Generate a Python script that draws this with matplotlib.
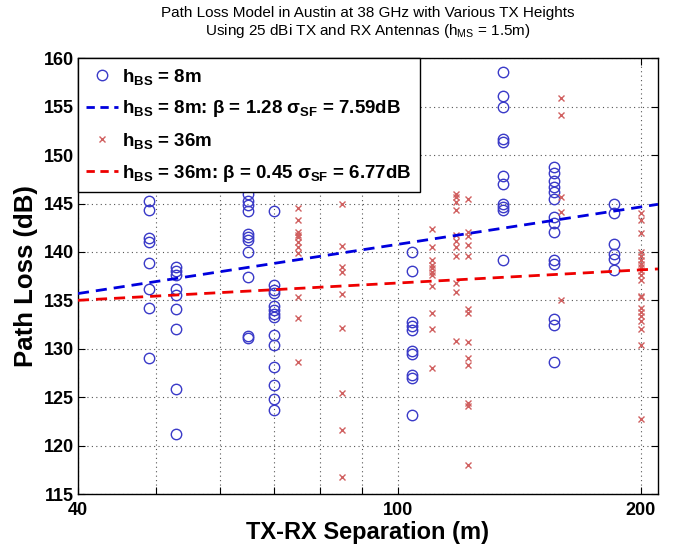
import numpy as np
import matplotlib.pyplot as plt
from matplotlib.lines import Line2D

plt.rcParams['font.family'] = ['Liberation Sans', 'DejaVu Sans']
plt.rcParams['mathtext.fontset'] = 'custom'
plt.rcParams['mathtext.rm'] = 'Liberation Sans'
plt.rcParams['mathtext.it'] = 'Liberation Sans:italic'
plt.rcParams['mathtext.bf'] = 'Liberation Sans:bold'

# measured path loss, h_BS = 8m (blue circles), grouped by TX-RX distance
dist_8m = [49, 53, 65, 70, 104, 135, 156, 185]
pl_8m = [
    [145.3, 144.3, 141.4, 141.0, 138.9, 136.2, 134.2, 129.0],
    [138.4, 138.0, 137.6, 136.2, 135.6, 134.1, 132.0, 125.8, 121.2],
    [146.0, 145.3, 144.9, 144.2, 141.9, 141.5, 141.2, 140.0, 137.4, 131.3, 131.1],
    [144.2, 136.6, 136.1, 135.8, 134.4, 134.0, 133.6, 133.3, 131.4, 130.4, 128.1, 126.3, 124.8, 123.7],
    [140.0, 138.0, 132.8, 132.4, 131.9, 129.8, 129.5, 127.3, 127.0, 123.2],
    [158.6, 156.1, 155.0, 151.7, 151.4, 147.9, 147.0, 145.0, 144.6, 144.3, 139.2],
    [148.8, 148.2, 147.3, 146.7, 146.2, 145.5, 143.6, 143.0, 142.1, 139.2, 138.8, 133.1, 132.5, 128.6],
    [145.0, 144.0, 140.8, 139.8, 139.3, 138.1],
]

# measured path loss, h_BS = 36m (red crosses)
dist_36m = [75, 85, 110, 118, 122, 159, 200]
pl_36m = [
    [144.5, 143.3, 142.1, 141.8, 141.5, 141.0, 140.5, 139.9, 135.3, 133.2, 128.6],
    [145.0, 140.6, 138.5, 137.9, 135.7, 132.2, 125.4, 121.6, 116.8],
    [142.4, 140.5, 139.2, 138.7, 138.3, 137.9, 137.6, 136.5, 133.7, 132.0, 128.0],
    [146.0, 145.7, 145.2, 144.3, 141.8, 141.1, 140.5, 139.6, 136.8, 135.9, 130.8],
    [145.5, 142.1, 141.6, 140.7, 139.6, 134.1, 133.7, 130.7, 129.0, 128.3, 124.4, 124.1, 118.0],
    [155.9, 154.1, 145.7, 144.1, 135.0],
    [144.0, 143.3, 142.0, 140.0, 139.6, 139.2, 138.8, 138.4, 138.0, 137.6, 137.1,
     135.5, 135.3, 134.2, 133.8, 133.4, 132.9, 132.0, 130.4, 122.8],
]

# fitted models PL = alpha + 10*beta*log10(d)
alpha_8m, beta_8m, sigma_8m = 115.2, 1.28, 7.59
alpha_36m, beta_36m, sigma_36m = 127.8, 0.45, 6.77

x_ticks = [40, 50, 60, 70, 80, 90, 100, 200]
x_ticklabels = ['40', '', '', '', '', '', '100', '200']
y_ticks = [115, 120, 125, 130, 135, 140, 145, 150, 155, 160]

fig = plt.figure(figsize=(6.78, 5.48), dpi=100, facecolor='white')
ax = fig.add_axes([0.115, 0.0985, 0.8555, 0.795])

x8 = np.concatenate([[d] * len(v) for d, v in zip(dist_8m, pl_8m)])
y8 = np.concatenate(pl_8m)
x36 = np.concatenate([[d] * len(v) for d, v in zip(dist_36m, pl_36m)])
y36 = np.concatenate(pl_36m)

ax.plot(x8, y8, 'o', mfc='none', mec='#3a3ac8', mew=1.0, ms=7.5, zorder=3)
ax.plot(x36, y36, 'x', color='#d06060', mew=1.0, ms=5, zorder=3)

d = np.array([40, 210])
ax.plot(d, alpha_8m + 10 * beta_8m * np.log10(d), '--', color='#0000dd', lw=2, dashes=(4, 2.5), zorder=4)
ax.plot(d, alpha_36m + 10 * beta_36m * np.log10(d), '--', color='#ee0000', lw=2, dashes=(4, 2.5), zorder=4)

ax.set_xscale('log')
ax.set_xlim(40, 210)
ax.set_ylim(115, 160)
ax.set_xticks(x_ticks)
ax.set_xticklabels(x_ticklabels)
ax.xaxis.set_minor_locator(plt.NullLocator())
ax.set_yticks(y_ticks)
ax.tick_params(direction='in', top=True, right=True, length=5, labelsize=13, pad=3)
ax.tick_params(axis='x', pad=6)
for lab in ax.get_xticklabels() + ax.get_yticklabels():
    lab.set_fontweight('bold')
ax.grid(True, linestyle=(0, (1, 3)), color='#555555', linewidth=0.8)
for s in ax.spines.values():
    s.set_linewidth(1.0)

ax.set_xlabel('TX-RX Separation (m)', fontsize=17, fontweight='bold', labelpad=1)
ax.set_ylabel('Path Loss (dB)', fontsize=18.5, fontweight='bold', labelpad=4)
ax.set_title('Path Loss Model in Austin at 38 GHz with Various TX Heights\n'
             'Using 25 dBi TX and RX Antennas (h$_{\\mathrm{MS}}$ = 1.5m)',
             fontsize=11, pad=17, linespacing=1.1)

handles = [
    Line2D([], [], ls='none', marker='o', mfc='none', mec='#3a3ac8', ms=7.5),
    Line2D([], [], ls='--', color='#0000dd', lw=2, dashes=(3, 2)),
    Line2D([], [], ls='none', marker='x', color='#d06060', ms=5),
    Line2D([], [], ls='--', color='#ee0000', lw=2, dashes=(3, 2)),
]
labels = [
    'h$_{\\mathbf{BS}}$ = 8m',
    'h$_{\\mathbf{BS}}$ = 8m: \u03b2 = %.2f \u03c3$_{\\mathbf{SF}}$ = %.2fdB' % (beta_8m, sigma_8m),
    'h$_{\\mathbf{BS}}$ = 36m',
    'h$_{\\mathbf{BS}}$ = 36m: \u03b2 = %.2f \u03c3$_{\\mathbf{SF}}$ = %.2fdB' % (beta_36m, sigma_36m),
]
leg = ax.legend(handles, labels, loc='upper left', borderaxespad=0, fancybox=False,
                edgecolor='black', framealpha=1, handlelength=1.7, handletextpad=0.2,
                labelspacing=0.62, borderpad=0.45,
                prop={'weight': 'bold', 'size': 13.5})
leg.get_frame().set_linewidth(1.0)
leg.set_zorder(5)

fig.savefig('out.png', dpi=100, facecolor='white')
